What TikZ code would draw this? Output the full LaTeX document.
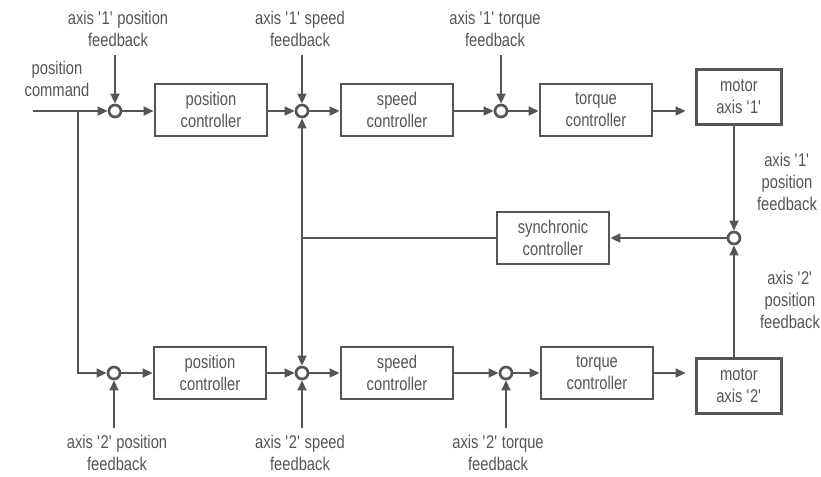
\documentclass[tikz,border=0pt]{standalone}
\usepackage{fontspec}
\setmainfont{Liberation Sans}[FakeStretch=0.8]
\usetikzlibrary{arrows.meta}
\definecolor{dg}{HTML}{555555}
\newcommand\sq{\textquotesingle}
\tikzset{
  lbl/.style={text=dg,font=\fontsize{13.8}{16.5}\selectfont,align=center,inner sep=0pt},
  blk/.style={draw=dg,line width=2pt,text=dg,font=\fontsize{13.8}{16.5}\selectfont,align=center,minimum width=84pt,minimum height=39pt,inner sep=0pt},
  mot/.style={blk,minimum width=64pt,minimum height=41pt},
  sum/.style={circle,draw=dg,fill=white,line width=2pt,minimum size=9pt,inner sep=0pt},
  con/.style={draw=dg,line width=2pt},
  arr/.style={con,-{Triangle[length=7.5pt,width=6.5pt]}}
}
\begin{document}
\begin{tikzpicture}[x=0.75pt,y=-0.75pt]
\useasboundingbox (0,0) rectangle (821,476);
% top row
\node[sum] (j11) at (115,111) {};
\node[blk] (pc1) at (211,110) {position\\controller};
\node[sum] (j12) at (302,111) {};
\node[blk] (sc1) at (397,110) {speed\\controller};
\node[sum] (j13) at (501,111) {};
\node[blk] (tc1) at (596,110) {torque\\controller};
\node[mot] (m1) at (739,97) {motor\\axis \sq1\sq};
% bottom row
\node[sum] (j21) at (114,373) {};
\node[blk] (pc2) at (210,373) {position\\controller};
\node[sum] (j22) at (302,373) {};
\node[blk] (sc2) at (397,373) {speed\\controller};
\node[sum] (j23) at (506,373) {};
\node[blk] (tc2) at (597,373) {torque\\controller};
\node[mot] (m2) at (739,386) {motor\\axis \sq2\sq};
% synchronic
\node[sum] (sj) at (734,238) {};
\node[blk] (syn) at (553,238) {synchronic\\controller};
% labels
\node[lbl] (lpc) at (57,79) {position\\command};
\node[lbl] (l11) at (118,29) {axis \sq1\sq{} position\\feedback};
\node[lbl] (l12) at (300,29) {axis \sq1\sq{} speed\\feedback};
\node[lbl] (l13) at (495,29) {axis \sq1\sq{} torque\\feedback};
\node[lbl] (l21) at (117,453) {axis \sq2\sq{} position\\feedback};
\node[lbl] (l22) at (300,453) {axis \sq2\sq{} speed\\feedback};
\node[lbl] (l23) at (498,453) {axis \sq2\sq{} torque\\feedback};
\node[lbl] (lr1) at (787,182) {axis \sq1\sq\\position\\feedback};
\node[lbl] (lr2) at (790,300) {axis \sq2\sq\\position\\feedback};
% coordinates
\coordinate (cin) at (33,111);
\coordinate (br) at (78,111);
\coordinate (f11) at (115,55);
\coordinate (f12) at (302,55);
\coordinate (f13) at (501,55);
\coordinate (f21) at (114,428);
\coordinate (f22) at (302,428);
\coordinate (f23) at (506,428);
\coordinate (sv) at (302,238);
% top connectors
\draw[arr] (cin) -- (j11);
\draw[arr] (j11) -- (pc1.west |- j11);
\draw[arr] (pc1.east |- j12) -- (j12);
\draw[arr] (j12) -- (sc1.west |- j12);
\draw[arr] (sc1.east |- j13) -- (j13);
\draw[arr] (j13) -- (tc1.west |- j13);
\draw[arr,shorten >=7pt] (tc1.east |- j13) -- (m1.west |- j13);
\draw[arr] (f11) -- (j11);
\draw[arr] (f12) -- (j12);
\draw[arr] (f13) -- (j13);
% bottom connectors
\draw[arr] (br) |- (j21);
\draw[arr] (j21) -- (pc2.west |- j21);
\draw[arr] (pc2.east |- j22) -- (j22);
\draw[arr] (j22) -- (sc2.west |- j22);
\draw[arr] (sc2.east |- j23) -- (j23);
\draw[arr] (j23) -- (tc2.west |- j23);
\draw[arr,shorten >=7pt] (tc2.east |- j23) -- (m2.west |- j23);
\draw[arr] (f21) -- (j21);
\draw[arr] (f22) -- (j22);
\draw[arr] (f23) -- (j23);
% synchronic loop
\draw[arr] (sj |- m1.south) -- (sj);
\draw[arr] (sj |- m2.north) -- (sj);
\draw[arr] (sj) -- (syn);
\draw[con] (syn) -- (sv);
\draw[arr] (sv) -- (j12);
\draw[arr] (sv) -- (j22);
\end{tikzpicture}
\end{document}
